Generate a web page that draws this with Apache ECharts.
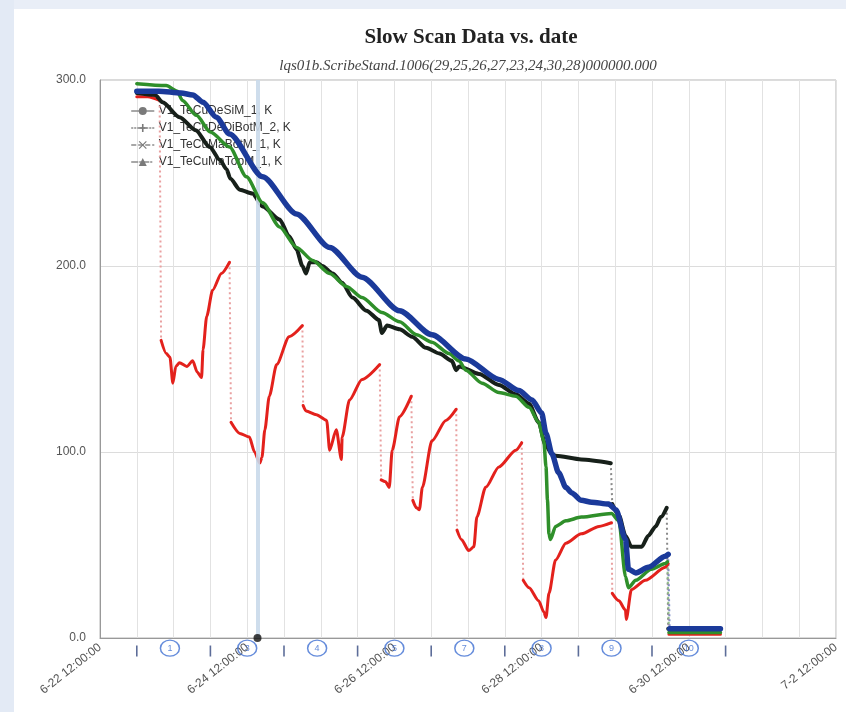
<!DOCTYPE html>
<html>
<head>
<meta charset="utf-8">
<script src="https://cdn.jsdelivr.net/npm/echarts@6/dist/echarts.min.js"></script>
<style>
html,body{margin:0;padding:0;background:#ffffff;}
#chart{width:846px;height:712px;}
</style>
</head>
<body>
<div id="chart"></div>
<script>
// ---- data (x = day of June, 22.5 = 6-22 12:00; null marks a fast transition) ----
const seriesNames = ['V1_TeCuDeSiM_1, K', 'V1_TeCuDeDiBotM_2, K', 'V1_TeCuMaBotM_1, K', 'V1_TeCuMaTopM_1, K'];

const redDays = [23.00, 23.15, 23.31, null,
  23.33, 23.40, 23.45, 23.49, 23.53, 23.58, 23.68, 23.76, 23.82, 23.88, 23.90, 23.95, 24.03, 24.15, 24.26, null,
  24.28, 24.40, 24.53, 24.60, 24.67, 24.70, 24.74, 24.80, 24.90, 25.07, 25.25, null,
  25.26, 25.30, 25.44, 25.58, 25.62, 25.71, 25.78, 25.79, 25.89, 26.06, 26.30, null,
  26.32, 26.38, 26.43, 26.47, 26.57, 26.73, null,
  26.75, 26.80, 26.84, 26.88, 27.01, 27.20, 27.34, null,
  27.35, 27.41, 27.51, 27.58, 27.62, 27.74, 27.92, 28.15, 28.23, null,
  28.25, 28.33, 28.46, 28.53, 28.56, 28.60, 28.69, 28.83, 29.04, 29.28, 29.45, null,
  29.46, 29.55, 29.64, 29.65, 29.72, 29.91, 30.18, 30.22, null,
  30.23, 30.93];
const redK = [291, 291, 289, null,
  160, 153, 151, 137, 146, 148, 146, 149, 143, 140, 155, 173, 187, 196, 202, null,
  116, 110, 108, 100, 94, 97, 112, 130, 147, 162, 168, null,
  125, 122, 120, 117, 101, 112, 96, 108, 128, 139, 147, null,
  85, 84, 81, 101, 119, 130, null,
  74, 70, 69, 81, 106, 117, 123, null,
  58, 53, 47, 49, 65, 81, 92, 101, 105, null,
  31, 27, 20, 14, 11, 24, 42, 51, 56, 60, 62, null,
  24, 20, 15, 10, 26, 31, 38, 40, null,
  2, 2];

const blackDays = [23.00, 23.25, 23.35, 23.58, 23.80, 23.99, 24.13, 24.22, 24.27, 24.40, 24.57, 24.71, 24.94,
  25.07, 25.17, 25.25, 25.30, 25.35, 25.44, 25.52, 25.66, 25.79, 25.93, 26.12, 26.29, 26.33, 26.40, 26.57,
  26.74, 26.93, 27.11, 27.28, 27.34, 27.38, 27.65, 27.92, 28.15, 28.33, 28.46, 28.55, 28.64, 28.69, 29.04, 29.44, null,
  29.46, 29.55, 29.64, 29.72, 29.86, 29.95, 30.05, 30.12, 30.20, null,
  30.22, 30.93];
const blackK = [293, 292, 288, 280, 273, 264, 257, 252, 247, 241, 239, 232, 225,
  216, 209, 200, 196, 202, 202, 200, 196, 191, 183, 176, 171, 164, 168, 166,
  162, 156, 153, 149, 144, 146, 142, 136, 131, 126, 116, 104, 99, 98, 96, 94, null,
  72, 66, 55, 49, 49, 55, 60, 65, 70, null,
  5, 5];

const greenDays = [23.00, 23.40, 23.55, 23.62, 23.81, 24.00, 24.26, 24.49, 24.71, 24.94, 25.17, 25.39, 25.62,
  25.85, 26.06, 26.33, 26.57, 26.80, 27.01, 27.24, 27.38, 27.47, 27.69, 27.92, 28.15, 28.33, 28.46, 28.53,
  28.56, 28.58, 28.60, 28.62, 28.69, 28.83, 29.04, 29.45, 29.55, 29.64, 29.68, 29.78, 29.99, 30.18, 30.21, null,
  30.23, 30.93];
const greenK = [298, 297, 294, 289, 281, 272, 264, 248, 234, 221, 210, 203, 196,
  189, 183, 175, 170, 163, 159, 153, 149, 144, 137, 132, 130, 124, 116, 106,
  92, 74, 56, 53, 60, 63, 65, 67, 63, 33, 27, 31, 37, 40, 41, null,
  3, 3];

const blueDays = [23.00, 23.30, 23.60, 23.76, 23.90, 24.08, 24.26, 24.71, 25.17, 25.62, 26.06, 26.57, 27.01,
  27.47, 27.92, 28.19, 28.37, 28.50, 28.56, 28.64, 28.73, 28.83, 28.91, 29.04, 29.18, 29.41, 29.51, 29.64,
  29.68, 29.78, 29.95, 30.18, 30.22, null,
  30.24, 30.93];
const blueK = [294, 294, 293, 292, 288, 280, 271, 248, 228, 210, 194, 176, 163,
  150, 139, 133, 128, 121, 110, 99, 89, 81, 78, 74, 73, 72, 69, 53,
  37, 35, 38, 44, 45, null,
  5, 5];

const yTicks = [0, 100, 200, 300];
const cursorDay = 24.64;
const penTickDays = [23, 24, 25, 26, 27, 28, 29, 30, 31];
const noteDays = [23.45, 24.5, 25.45, 26.5, 27.45, 28.5, 29.45, 30.5];
const noteLabels = ['1', '3', '4', '5', '7', '8', '9', '10'];

// ---- helpers ----
function build(days, vals) {
  const main = [], drops = [];
  for (let i = 0; i < days.length; i++) {
    if (vals[i] === null) {
      main.push([days[i - 1], '-']);
      drops.push([days[i - 1], vals[i - 1]], [days[i + 1], vals[i + 1]], [days[i + 1], '-']);
    } else {
      main.push([days[i], vals[i]]);
    }
  }
  return { main, drops };
}
function pad(n) { return (n < 10 ? '0' : '') + n; }
function dayLabel(v) {
  const d = Math.floor(v + 1e-6);
  const h = Math.round((v - d) * 24);
  const m = d > 30 ? 7 : 6;
  const dd = d > 30 ? d - 30 : d;
  return m + '-' + dd + ' ' + pad(h) + ':00:00';
}

const colors = ['#e3211c', '#17201a', '#2f8f2a', '#1b3a9a'];
const dropColors = ['#e9a0a0', '#8a8a8a', '#8fbf8a', '#7f90c8'];
const widths = [3, 4, 3.5, 5.5];
const symbols = ['circle', 'path://M4,0H6V4H10V6H6V10H4V6H0V4H4Z',
  'path://M1,0L5,4L9,0L10,1L6,5L10,9L9,10L5,6L1,10L0,9L4,5L0,1Z', 'triangle'];
const legendLineTypes = ['solid', [1, 2], [4, 3], [6, 2, 1, 2]];
const raw = [[redDays, redK], [blackDays, blackK], [greenDays, greenK], [blueDays, blueK]];

const series = [];
raw.forEach((r, i) => {
  const b = build(r[0], r[1]);
  series.push({
    name: seriesNames[i], type: 'line', data: b.main, showSymbol: false, connectNulls: false,
    symbol: symbols[i], symbolSize: 6,
    smooth: 0.25, smoothMonotone: 'x',
    lineStyle: { color: colors[i], width: widths[i], cap: 'round', join: 'round' },
    itemStyle: { color: colors[i] }, z: 3 + i, animation: false
  });
});
raw.forEach((r, i) => {
  const b = build(r[0], r[1]);
  series.push({
    name: seriesNames[i], type: 'line', data: b.drops, showSymbol: false, connectNulls: false,
    symbol: symbols[i],
    lineStyle: { color: dropColors[i], width: 2, type: [2, 3] }, itemStyle: { color: colors[i] },
    z: 2, silent: true, animation: false
  });
});
// cursor band + dot
series.push({
  name: 'cursor', type: 'scatter', data: [[cursorDay, 0]], symbolSize: 8,
  itemStyle: { color: '#111' }, z: 8, clip: false, animation: false,
  markLine: {
    silent: true, symbol: 'none', label: { show: false }, animation: false,
    lineStyle: { color: '#c9d9ea', width: 4, type: 'solid', opacity: 0.9 },
    data: [{ xAxis: cursorDay }]
  }
});
// pen ticks under the axis
series.push({
  name: 'penTicks', type: 'scatter', data: penTickDays.map(d => [d, -7]), symbol: 'rect',
  symbolSize: [1.6, 11], itemStyle: { color: '#34487f' }, clip: false, z: 8, animation: false
});
// circled hand notes
series.push({
  name: 'notes', type: 'scatter', data: noteDays.map((d, i) => ({ value: [d, -5.5], label: { formatter: noteLabels[i] } })),
  symbol: 'circle', symbolSize: [19, 16], clip: false, z: 8, animation: false,
  itemStyle: { color: 'rgba(255,255,255,0)', borderColor: '#3f6fd2', borderWidth: 1.4 },
  label: { show: true, position: 'inside', color: '#3f6fd2', fontSize: 9, fontFamily: 'Liberation Sans' }
});

const chart = echarts.init(document.getElementById('chart'), null, { renderer: 'canvas' });
chart.setOption({
  backgroundColor: '#ffffff',
  animation: false,
  graphic: [
    { type: 'rect', shape: { x: 0, y: 0, width: 846, height: 9 }, style: { fill: '#e9eef7' }, z: -1 },
    { type: 'rect', shape: { x: 0, y: 0, width: 14, height: 712 }, style: { fill: '#e3eaf5' }, z: -1 }
  ],
  title: [
    { text: 'Slow Scan Data vs. date', left: 466, top: 22, textAlign: 'center',
      textStyle: { fontFamily: 'Liberation Serif', fontWeight: 'bold', fontSize: 21, color: '#222' } },
    { text: 'lqs01b.ScribeStand.1006(29,25,26,27,23,24,30,28)000000.000', left: 463, top: 54, textAlign: 'center',
      textStyle: { fontFamily: 'Liberation Serif', fontStyle: 'italic', fontWeight: 'normal', fontSize: 15, color: '#444' } }
  ],
  legend: {
    data: seriesNames.map((n, i) => ({ name: n, lineStyle: { type: legendLineTypes[i], color: '#8a8a8a', width: 1.5 }, itemStyle: { color: '#7a7a7a' } })),
    orient: 'vertical', left: 126, top: 100, itemGap: 5, itemWidth: 22, itemHeight: 10,
    z: 1, textStyle: { fontFamily: 'Liberation Sans', fontSize: 12, color: '#333' }
  },
  grid: { left: 100, right: 10, top: 80, bottom: 74, show: true, borderColor: '#b5b5b5', borderWidth: 1, backgroundColor: '#ffffff' },
  xAxis: {
    type: 'value', min: 22.5, max: 32.5, interval: 0.5,
    axisLine: { show: true, lineStyle: { color: '#999' } },
    axisTick: { show: false },
    splitLine: { show: true, lineStyle: { color: '#e2e2e2', width: 1 } },
    axisLabel: {
      rotate: 38, margin: 8, fontFamily: 'Liberation Sans', fontSize: 12, color: '#555',
      formatter: v => {
        const k = (v - 22.5) / 2;
        return Math.abs(k - Math.round(k)) < 1e-6 ? dayLabel(v) : '';
      }
    }
  },
  yAxis: {
    type: 'value', min: yTicks[0], max: yTicks[yTicks.length - 1], interval: 100,
    axisLine: { show: true, lineStyle: { color: '#999' } },
    axisTick: { show: false },
    splitLine: { show: true, lineStyle: { color: '#dcdcdc' } },
    axisLabel: { margin: 14, fontFamily: 'Liberation Sans', fontSize: 12, color: '#555', formatter: v => v.toFixed(1) }
  },
  series: series
});
</script>
</body>
</html>
